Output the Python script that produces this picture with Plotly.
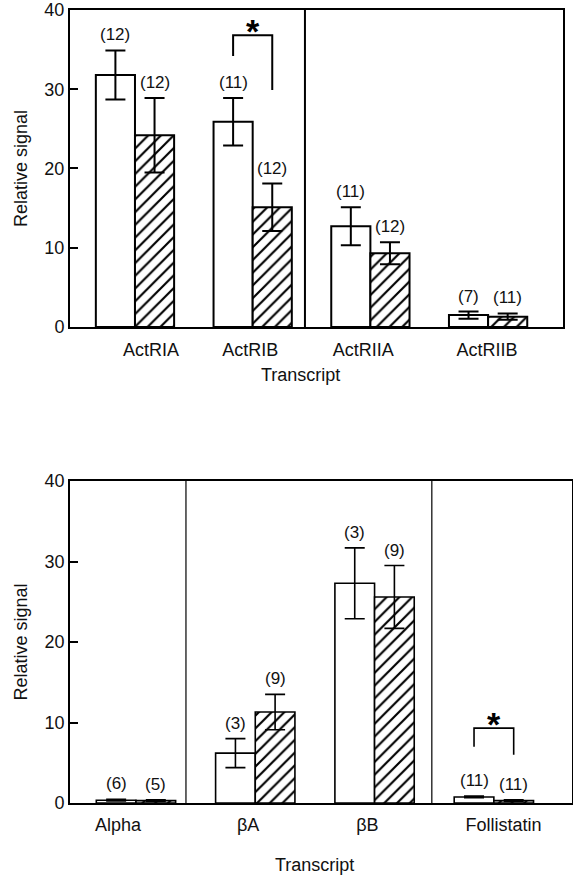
import plotly.graph_objects as go

# ---------------- data ----------------
top_cats = ["ActRIA", "ActRIB", "ActRIIA", "ActRIIB"]
top_ctrl = [31.8, 25.9, 12.7, 1.5]
top_ctrl_err = [3.1, 3.0, 2.4, 0.45]
top_trt = [24.2, 15.1, 9.3, 1.3]
top_trt_err = [4.7, 3.0, 1.4, 0.4]
top_ctrl_n = ["(12)", "(11)", "(11)", "(7)"]
top_trt_n = ["(12)", "(12)", "(12)", "(11)"]

bot_cats = ["Alpha", "βA", "βB", "Follistatin"]
bot_ctrl = [0.35, 6.2, 27.3, 0.75]
bot_ctrl_err = [0.1, 1.8, 4.4, 0.1]
bot_trt = [0.3, 11.3, 25.6, 0.3]
bot_trt_err = [0.1, 2.2, 3.9, 0.1]
bot_ctrl_n = ["(6)", "(3)", "(3)", "(11)"]
bot_trt_n = ["(5)", "(9)", "(9)", "(11)"]

# significance brackets: (category index, top, left leg end, right leg end, star y)
top_sig = [(1, 36.8, 34.2, 29.9, 38.4)]
bot_sig = [(3, 9.3, 7.0, 6.0, 10.8)]

y_ticks = [0, 10, 20, 30, 40]
x_title = "Transcript"
y_title = "Relative signal"

# ---------------- style ----------------
FONT = "Liberation Sans, Arial, Helvetica, sans-serif"
TXT = "#111111"
FS = 18
BARGAP = 0.335
W = (1 - BARGAP) / 2

fig = go.Figure()


def add_panel(xa, ya, cats, ctrl, ctrl_err, trt, trt_err, ctrl_n, trt_n, sig, lw):
    idx = list(range(len(cats)))
    fig.add_trace(go.Bar(
        x=idx, y=ctrl, xaxis=xa, yaxis=ya, showlegend=False,
        marker=dict(color="white", line=dict(color="black", width=lw)),
        error_y=dict(type="data", array=ctrl_err, color="black", thickness=lw, width=10),
    ))
    fig.add_trace(go.Bar(
        x=idx, y=trt, xaxis=xa, yaxis=ya, showlegend=False,
        marker=dict(color="white", line=dict(color="black", width=lw),
                    pattern=dict(shape="/", fgcolor="black", bgcolor="white",
                                 fgopacity=1, size=9, solidity=0.24)),
        error_y=dict(type="data", array=trt_err, color="black", thickness=lw, width=10),
    ))
    for i in idx:
        for xc, v, e, t in [(i - W / 2, ctrl[i], ctrl_err[i], ctrl_n[i]),
                            (i + W / 2, trt[i], trt_err[i], trt_n[i])]:
            fig.add_annotation(x=xc, y=v + e, xref=xa, yref=ya, text=t,
                               showarrow=False, yanchor="bottom", yshift=4,
                               font=dict(family=FONT, size=17, color=TXT))
    for (i, top, l_end, r_end, star_y) in sig:
        xl, xr = i - W / 2, i + W / 2
        fig.add_shape(type="path", xref=xa, yref=ya,
                      path=f"M {xl} {l_end} L {xl} {top} L {xr} {top} L {xr} {r_end}",
                      line=dict(color="black", width=lw))
        fig.add_annotation(x=i, y=star_y, xref=xa, yref=ya, text="<b>*</b>",
                           showarrow=False, yanchor="middle", yshift=-8,
                           font=dict(family=FONT, size=34, color="black"))


add_panel("x", "y", top_cats, top_ctrl, top_ctrl_err, top_trt, top_trt_err,
          top_ctrl_n, top_trt_n, top_sig, 2)
add_panel("x2", "y2", bot_cats, bot_ctrl, bot_ctrl_err, bot_trt, bot_trt_err,
          bot_ctrl_n, bot_trt_n, bot_sig, 1.6)

# panel dividers
for xa, xpos, lw in [("x", 1.444, 2), ("x2", 0.419, 1.2), ("x2", 2.48, 1.2)]:
    fig.add_shape(type="line", xref=xa, yref=("y domain" if xa == "x" else "y2 domain"),
                  x0=xpos, x1=xpos, y0=0, y1=1, line=dict(color="black", width=lw))

axis_common = dict(showline=True, linecolor="black", mirror=True, showgrid=False,
                   zeroline=False)

fig.update_layout(
    width=573, height=876,
    margin=dict(l=70, r=1, t=10, b=73),
    paper_bgcolor="white", plot_bgcolor="white",
    barmode="group", bargap=BARGAP, bargroupgap=0,
    font=dict(family=FONT, size=FS, color=TXT),
    xaxis=dict(domain=[0, 0.982], range=[-0.552, 3.636], anchor="y",
               tickmode="array", tickvals=[0.136, 0.98, 1.94, 2.99], ticktext=top_cats,
               ticks="", ticklabelstandoff=5, linewidth=2,
               tickfont=dict(family=FONT, size=FS, color=TXT), **axis_common),
    yaxis=dict(domain=[0.6003, 1], range=[0, 40], anchor="x",
               tickmode="array", tickvals=y_ticks, ticks="inside", ticklen=8, tickwidth=2,
               tickcolor="black", linewidth=2, automargin=False,
               title=dict(text=y_title, standoff=12, font=dict(family=FONT, size=FS, color=TXT)),
               tickfont=dict(family=FONT, size=FS, color=TXT), **axis_common),
    xaxis2=dict(domain=[0, 1], range=[-0.553, 3.655], anchor="y2",
                tickmode="array", tickvals=[-0.15, 0.94, 1.94, 3.08], ticktext=bot_cats,
                ticks="", ticklabelstandoff=5, linewidth=1.6,
                tickfont=dict(family=FONT, size=FS, color=TXT), **axis_common),
    yaxis2=dict(domain=[0, 0.406], range=[0, 40], anchor="x2",
                tickmode="array", tickvals=y_ticks, ticks="inside", ticklen=8, tickwidth=2,
                tickcolor="black", linewidth=1.6, automargin=False,
                title=dict(text=y_title, standoff=12, font=dict(family=FONT, size=FS, color=TXT)),
                tickfont=dict(family=FONT, size=FS, color=TXT), **axis_common),
)

fig.add_annotation(text=x_title, xref="paper", yref="paper", x=0.46, y=0.5397,
                   showarrow=False, yanchor="middle", font=dict(family=FONT, size=FS, color=TXT))
fig.add_annotation(text=x_title, xref="paper", yref="paper", x=0.488, y=-0.078,
                   showarrow=False, yanchor="middle", font=dict(family=FONT, size=FS, color=TXT))

fig.write_html("out.html")
